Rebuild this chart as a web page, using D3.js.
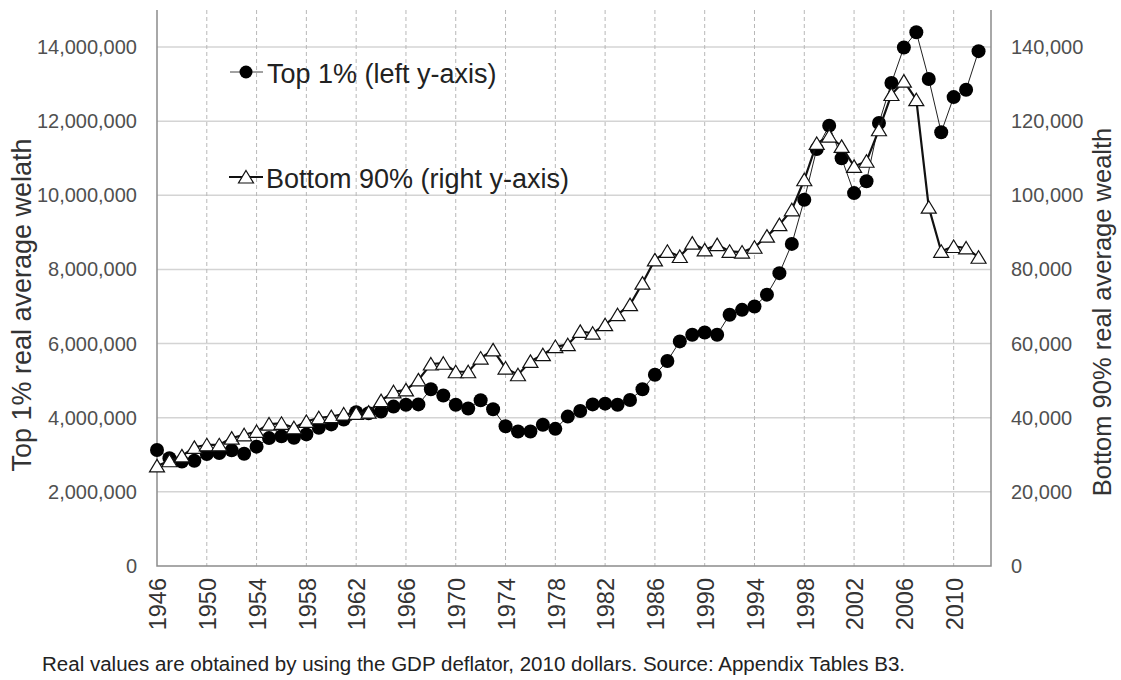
<!DOCTYPE html>
<meta charset="utf-8">
<style>

body {
  margin: 0;
  background: #fff;
  font-family: "Liberation Sans", Arial, sans-serif;
}

.grid-h line {
  stroke: #d4d4d4;
  stroke-width: 1.5;
}

.grid-v line {
  stroke: #b8b8b8;
  stroke-width: 1;
  stroke-dasharray: 4,3;
}

.axis-line {
  stroke: #8c8c8c;
  stroke-width: 1.5;
  fill: none;
}

.tick-label {
  font-size: 20px;
  fill: #505050;
}

.year-label {
  font-size: 23.5px;
  fill: #333;
}

.title {
  fill: #333;
}

.legend text {
  font-size: 27px;
  fill: #222;
}

.line-top {
  fill: none;
  stroke: #222;
  stroke-width: 1;
}

.line-bottom {
  fill: none;
  stroke: #111;
  stroke-width: 2.2;
}

</style>
<body>
<script src="https://d3js.org/d3.v7.min.js"></script>
<script>

// years on the category axis
var years = [1946, 1947, 1948, 1949, 1950, 1951, 1952, 1953, 1954, 1955,
             1956, 1957, 1958, 1959, 1960, 1961, 1962, 1963, 1964, 1965,
             1966, 1967, 1968, 1969, 1970, 1971, 1972, 1973, 1974, 1975,
             1976, 1977, 1978, 1979, 1980, 1981, 1982, 1983, 1984, 1985,
             1986, 1987, 1988, 1989, 1990, 1991, 1992, 1993, 1994, 1995,
             1996, 1997, 1998, 1999, 2000, 2001, 2002, 2003, 2004, 2005,
             2006, 2007, 2008, 2009, 2010, 2011, 2012];

// top 1% real average wealth (left axis, dollars)
var top1 = [3130000, 2910000, 2820000, 2840000, 3020000, 3050000, 3120000, 3030000, 3220000, 3450000,
            3500000, 3460000, 3550000, 3730000, 3820000, 3950000, 4150000, 4120000, 4170000, 4300000,
            4350000, 4360000, 4770000, 4600000, 4350000, 4250000, 4470000, 4230000, 3770000, 3630000,
            3630000, 3810000, 3700000, 4030000, 4180000, 4360000, 4380000, 4350000, 4480000, 4770000,
            5160000, 5530000, 6060000, 6240000, 6300000, 6240000, 6780000, 6910000, 7000000, 7320000,
            7900000, 8690000, 9880000, 11250000, 11880000, 11000000, 10060000, 10380000, 11950000, 13030000,
            13990000, 14400000, 13140000, 11700000, 12650000, 12850000, 13890000];

// bottom 90% real average wealth (right axis, dollars)
var bottom90 = [27000, 28400, 29700, 32000, 32700, 32700, 34500, 35400, 36300, 38300,
                38500, 37300, 39000, 40000, 40300, 41000, 41200, 41500, 44600, 47000,
                47500, 50200, 54500, 54700, 52400, 52400, 56100, 58300, 53400, 51600,
                55200, 57000, 59200, 59700, 63300, 62800, 65100, 67800, 70500, 76300,
                82600, 84900, 83500, 87100, 85300, 86700, 84900, 84700, 86000, 89000,
                92100, 96100, 104200, 114000, 116000, 113200, 107800, 109200, 117700, 127200,
                130800, 125800, 96800, 84900, 86200, 85800, 83300];

var leftTicks = [0, 2000000, 4000000, 6000000, 8000000, 10000000, 12000000, 14000000];
var rightTicks = [0, 20000, 40000, 60000, 80000, 100000, 120000, 140000];
var yearTicks = [1946, 1950, 1954, 1958, 1962, 1966, 1970, 1974, 1978, 1982,
                 1986, 1990, 1994, 1998, 2002, 2006, 2010];

var seriesNames = ["Top 1% (left y-axis)", "Bottom 90% (right y-axis)"];
var leftTitle = "Top 1% real average welath";
var rightTitle = "Bottom 90% real average wealth";
var footnote = "Real values are obtained by using the GDP deflator, 2010 dollars. Source: Appendix Tables B3.";

var width = 1121, height = 680;
var plot = {left: 157, right: 991, top: 10, bottom: 566};

var x = d3.scaleLinear().domain([1946, 2013]).range([plot.left, plot.right]);
var yL = d3.scaleLinear().domain([0, 15000000]).range([plot.bottom, plot.top]);
var yR = d3.scaleLinear().domain([0, 150000]).range([plot.bottom, plot.top]);

var svg = d3.select("body").append("svg")
    .attr("width", width)
    .attr("height", height);

// horizontal gridlines
svg.append("g")
    .attr("class", "grid-h")
  .selectAll("line")
    .data(leftTicks.slice(1))
  .enter().append("line")
    .attr("x1", plot.left)
    .attr("x2", plot.right)
    .attr("y1", function(d) { return yL(d); })
    .attr("y2", function(d) { return yL(d); });

// vertical dashed gridlines
svg.append("g")
    .attr("class", "grid-v")
  .selectAll("line")
    .data(yearTicks.slice(1))
  .enter().append("line")
    .attr("x1", function(d) { return x(d); })
    .attr("x2", function(d) { return x(d); })
    .attr("y1", plot.top)
    .attr("y2", plot.bottom);

// axis frame: left, bottom, right
svg.append("path")
    .attr("class", "axis-line")
    .attr("d", "M" + plot.left + "," + plot.top + "V" + plot.bottom +
               "H" + plot.right + "V" + plot.top);

// left tick labels
svg.append("g").selectAll("text")
    .data(leftTicks)
  .enter().append("text")
    .attr("class", "tick-label")
    .attr("x", 137)
    .attr("y", function(d) { return yL(d); })
    .attr("dy", ".35em")
    .style("text-anchor", "end")
    .text(function(d) { return d3.format(",")(d); });

// right tick labels
svg.append("g").selectAll("text")
    .data(rightTicks)
  .enter().append("text")
    .attr("class", "tick-label")
    .attr("x", 1011)
    .attr("y", function(d) { return yR(d); })
    .attr("dy", ".35em")
    .text(function(d) { return d3.format(",")(d); });

// year labels, rotated
svg.append("g").selectAll("text")
    .data(yearTicks)
  .enter().append("text")
    .attr("class", "year-label")
    .attr("transform", function(d) {
      return "translate(" + (x(d) + 1) + ",578) rotate(-90)";
    })
    .attr("dy", ".35em")
    .style("text-anchor", "end")
    .text(function(d) { return d; });

// axis titles
svg.append("text")
    .attr("class", "title")
    .attr("transform", "translate(22,305) rotate(-90)")
    .attr("dy", ".35em")
    .style("text-anchor", "middle")
    .style("font-size", "27px")
    .text(leftTitle);

svg.append("text")
    .attr("class", "title")
    .attr("transform", "translate(1102,312) rotate(-90)")
    .attr("dy", ".35em")
    .style("text-anchor", "middle")
    .style("font-size", "25.5px")
    .text(rightTitle);

// footnote
svg.append("text")
    .attr("x", 42)
    .attr("y", 671)
    .style("font-size", "20px")
    .style("fill", "#222")
    .attr("textLength", 863)
    .attr("lengthAdjust", "spacingAndGlyphs")
    .text(footnote);

var top1Data = years.map(function(yr, i) { return {year: yr, value: top1[i]}; });
var bottomData = years.map(function(yr, i) { return {year: yr, value: bottom90[i]}; });

var triangle = "M0,-6.5L7.5,6L-7.5,6Z";

// top 1% line and dots
svg.append("path")
    .datum(top1Data)
    .attr("class", "line-top")
    .attr("d", d3.line()
      .x(function(d) { return x(d.year); })
      .y(function(d) { return yL(d.value); }));

svg.append("g").selectAll("circle")
    .data(top1Data)
  .enter().append("circle")
    .attr("cx", function(d) { return x(d.year); })
    .attr("cy", function(d) { return yL(d.value); })
    .attr("r", 7)
    .style("fill", "#000");

// bottom 90% line and triangles
svg.append("path")
    .datum(bottomData)
    .attr("class", "line-bottom")
    .attr("d", d3.line()
      .x(function(d) { return x(d.year); })
      .y(function(d) { return yR(d.value); }));

svg.append("g").selectAll("path")
    .data(bottomData)
  .enter().append("path")
    .attr("d", triangle)
    .attr("transform", function(d) {
      return "translate(" + x(d.year) + "," + yR(d.value) + ")";
    })
    .style("fill", "#fff")
    .style("stroke", "#111")
    .style("stroke-width", 1.2);

// legend
var legend = svg.append("g").attr("class", "legend");

legend.append("line")
    .attr("x1", 230).attr("x2", 263)
    .attr("y1", 72).attr("y2", 72)
    .style("stroke", "#444").style("stroke-width", 1);
legend.append("circle")
    .attr("cx", 246).attr("cy", 72).attr("r", 6.5)
    .style("fill", "#000");
legend.append("text")
    .attr("x", 267).attr("y", 74)
    .attr("dy", ".35em")
    .text(seriesNames[0]);

legend.append("line")
    .attr("x1", 229).attr("x2", 263)
    .attr("y1", 177).attr("y2", 177)
    .style("stroke", "#111").style("stroke-width", 2.2);
legend.append("path")
    .attr("d", triangle)
    .attr("transform", "translate(246,177)")
    .style("fill", "#fff").style("stroke", "#111").style("stroke-width", 1.2);
legend.append("text")
    .attr("x", 266).attr("y", 179)
    .attr("dy", ".35em")
    .text(seriesNames[1]);

</script>
</body>
